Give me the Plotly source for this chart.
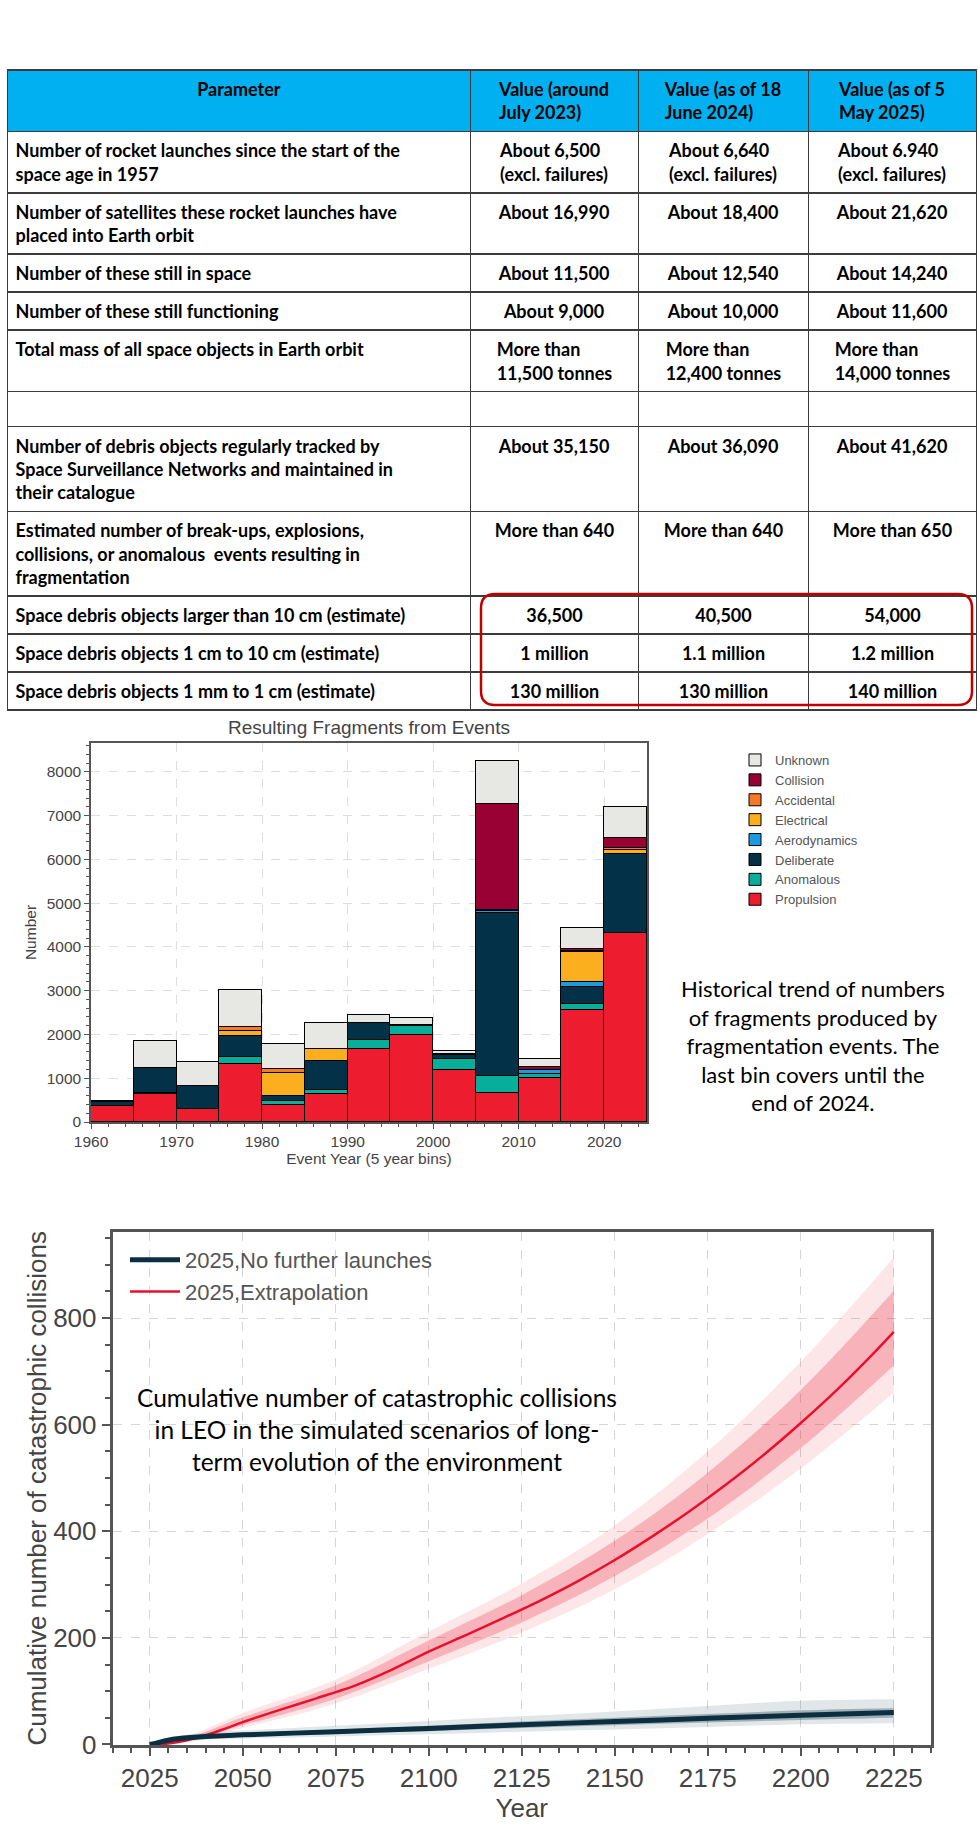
import plotly.graph_objects as go

W, H = 978, 1842
ARIAL = "Liberation Sans, Arial, sans-serif"
CAL = "Lato, Noto Sans, sans-serif"


def px(x):
    return x / W


def py(y):
    return 1 - y / H


# ---------------- Table data ----------------
table_header = ["Parameter", "Value (around<br>July 2023)",
                "Value (as of 18<br>June 2024)", "Value (as of 5<br>May 2025)"]
param_labels = [
    "Number of rocket launches since the start of the<br>space age in 1957",
    "Number of satellites these rocket launches have<br>placed into Earth orbit",
    "Number of these still in space",
    "Number of these still functioning",
    "Total mass of all space objects in Earth orbit",
    "",
    "Number of debris objects regularly tracked by<br>Space Surveillance Networks and maintained in<br>their catalogue",
    "Estimated number of break-ups, explosions,<br>collisions, or anomalous  events resulting in<br>fragmentation",
    "Space debris objects larger than 10 cm (estimate)",
    "Space debris objects 1 cm to 10 cm (estimate)",
    "Space debris objects 1 mm to 1 cm (estimate)",
]
values_2023 = ["About 6,500<br>(excl. failures)", "About 16,990", "About 11,500", "About 9,000",
               "More than<br>11,500 tonnes", "", "About 35,150", "More than 640",
               "36,500", "1 million", "130 million"]
values_2024 = ["About 6,640<br>(excl. failures)", "About 18,400", "About 12,540", "About 10,000",
               "More than<br>12,400 tonnes", "", "About 36,090", "More than 640",
               "40,500", "1.1 million", "130 million"]
values_2025 = ["About 6.940<br>(excl. failures)", "About 21,620", "About 14,240", "About 11,600",
               "More than<br>14,000 tonnes", "", "About 41,620", "More than 650",
               "54,000", "1.2 million", "140 million"]

# ---------------- Fragment bar data (5-year bins) ----------------
bin_starts = [1960, 1965, 1970, 1975, 1980, 1985, 1990, 1995, 2000, 2005, 2010, 2015, 2020]
propulsion = [360, 650, 300, 1316, 398, 630, 1660, 1980, 1195, 665, 995, 2555, 4315]
anomalous = [0, 15, 0, 175, 84, 105, 205, 210, 240, 380, 95, 145, 0]
deliberate = [95, 575, 520, 475, 114, 660, 400, 30, 95, 3740, 10, 390, 1805]
aerodynamics = [0, 0, 0, 0, 0, 0, 0, 0, 0, 30, 80, 115, 0]
electrical = [0, 0, 0, 120, 514, 270, 0, 0, 0, 0, 0, 690, 100]
accidental = [0, 0, 0, 78, 106, 0, 0, 0, 0, 30, 0, 20, 40]
collision = [0, 0, 0, 0, 0, 0, 0, 0, 30, 2420, 75, 35, 230]
unknown = [15, 620, 545, 856, 559, 590, 180, 160, 70, 990, 190, 495, 702]

bar_series = [
    ("Propulsion", propulsion, "#ED1C2E"),
    ("Anomalous", anomalous, "#07AF9B"),
    ("Deliberate", deliberate, "#033248"),
    ("Aerodynamics", aerodynamics, "#1E9BE0"),
    ("Electrical", electrical, "#FCAF1E"),
    ("Accidental", accidental, "#F47A28"),
    ("Collision", collision, "#990033"),
    ("Unknown", unknown, "#E7E7E3"),
]

# ---------------- Catastrophic collisions data ----------------
red_years = [2025, 2030, 2035, 2040, 2045, 2050, 2060, 2070, 2080, 2090, 2100,
             2110, 2120, 2130, 2140, 2150, 2160, 2170, 2180, 2190, 2200, 2210,
             2220, 2225]
red_mean = [0, 2, 8, 17, 29, 42, 65, 87, 110, 140, 174,
            205, 237, 270, 306, 346, 390, 437, 488, 543, 603, 667,
            737, 774]
red_band_years = [2025, 2035, 2050, 2075, 2100, 2125, 2150, 2175, 2200, 2225]
red_outer_hi = [0, 15, 59, 122, 212, 302, 411, 550, 718, 914]
red_outer_lo = [0, 4, 31, 77, 142, 210, 291, 395, 518, 660]
red_inner_hi = [0, 12, 51, 111, 195, 280, 382, 510, 665, 851]
red_inner_lo = [0, 6, 36, 86, 156, 229, 316, 424, 556, 711]

navy_years = [2025, 2027, 2030, 2033, 2036, 2040, 2050, 2075, 2100, 2125, 2150, 2175, 2200, 2225]
navy_mean = [0, 3, 8, 11, 13, 15, 18, 24, 30, 37, 43, 49, 55, 60]
navy_band_years = [2025, 2030, 2040, 2050, 2075, 2100, 2125, 2150, 2175, 2200, 2225]
navy_outer_hi = [0, 13, 22, 26, 35, 44, 53, 62, 72, 82, 85]
navy_outer_lo = [0, 3, 9, 11, 15, 19, 24, 28, 33, 38, 40]
navy_inner_hi = [0, 10, 18, 21, 28, 35, 43, 50, 57, 64, 68]
navy_inner_lo = [0, 6, 12, 15, 20, 25, 31, 36, 41, 46, 50]


def bold(t):
    if not t:
        return ""
    return "<br>".join("<b>%s</b>" % p for p in t.split("<br>"))


fig = go.Figure()

# ---------------- Table ----------------
tfont = dict(family=CAL, size=18, color="black")
tline = dict(color="#3c3c3c", width=1.5)
fig.add_trace(go.Table(
    domain=dict(x=[px(7.5), px(977)], y=[py(716), py(70)]),
    columnwidth=[463, 168, 170, 168],
    header=dict(values=[bold(t) for t in table_header], fill_color="#00B0F0",
                align="center", font=tfont, line=tline, height=35),
    cells=dict(values=[[bold(t) for t in col] for col in
                       (param_labels, values_2023, values_2024, values_2025)],
               fill_color="white", align=["left", "center", "center", "center"],
               font=tfont, line=tline, height=35),
))

# ---------------- Stacked bars ----------------
centers = [b + 2.5 for b in bin_starts]
for name, vals, col in bar_series:
    fig.add_trace(go.Bar(
        x=centers, y=vals, width=5, name=name,
        marker=dict(color=col, line=dict(color="black", width=1)),
        xaxis="x", yaxis="y", legend="legend",
    ))


# ---------------- Simulation lines ----------------
def band(xs, lo, hi, color):
    fig.add_trace(go.Scatter(x=xs, y=lo, mode="lines", line=dict(width=0, color=color, shape="spline"),
                             showlegend=False, hoverinfo="skip", xaxis="x2", yaxis="y2"))
    fig.add_trace(go.Scatter(x=xs, y=hi, mode="lines", line=dict(width=0, color=color, shape="spline"),
                             fill="tonexty", fillcolor=color, showlegend=False,
                             hoverinfo="skip", xaxis="x2", yaxis="y2"))


band(red_band_years, red_outer_lo, red_outer_hi, "rgba(237,28,46,0.11)")
band(red_band_years, red_inner_lo, red_inner_hi, "rgba(237,28,46,0.25)")
fig.add_trace(go.Scatter(x=red_years, y=red_mean, mode="lines", name="2025,Extrapolation",
                         line=dict(color="#E8112D", width=2.5, shape="spline", smoothing=0.8),
                         xaxis="x2", yaxis="y2", legend="legend2", legendrank=2))
band(navy_band_years, navy_outer_lo, navy_outer_hi, "rgba(11,46,64,0.12)")
band(navy_band_years, navy_inner_lo, navy_inner_hi, "rgba(11,46,64,0.30)")
fig.add_trace(go.Scatter(x=navy_years, y=navy_mean, mode="lines", name="2025,No further launches",
                         line=dict(color="#0B2E40", width=5, shape="spline", smoothing=0.8),
                         xaxis="x2", yaxis="y2", legend="legend2", legendrank=1))

# ---------------- Axes ----------------
grey = "#555555"
fig.update_layout(
    width=W, height=H, autosize=False,
    margin=dict(l=0, r=0, t=0, b=0, pad=0, autoexpand=False),
    paper_bgcolor="white", plot_bgcolor="white",
    barmode="stack", bargap=0,
    showlegend=True,
    xaxis=dict(domain=[px(91), px(647)], anchor="y", range=[1960, 2025], automargin=False,
               tick0=1960, dtick=10, ticks="outside", ticklen=5, tickwidth=1, tickcolor=grey,
               showline=True, linecolor=grey, linewidth=1.5, mirror=True,
               showgrid=True, gridcolor="#dedede", griddash="dash", gridwidth=1, zeroline=False,
               tickfont=dict(family=ARIAL, size=15.5, color="#444"),
               title=dict(text="Event Year (5 year bins)", font=dict(family=ARIAL, size=15.5, color="#444"),
                          standoff=4),
               minor=dict(tick0=1960, dtick=2, ticks="outside", ticklen=3, tickcolor=grey, showgrid=False)),
    yaxis=dict(domain=[py(1122), py(743)], anchor="x", range=[0, 8662], automargin=False,
               tick0=0, dtick=1000, ticks="outside", ticklen=5, tickwidth=1, tickcolor=grey,
               showline=True, linecolor=grey, linewidth=1.5, mirror=True,
               showgrid=True, gridcolor="#dedede", griddash="dash", gridwidth=1, zeroline=False,
               tickfont=dict(family=ARIAL, size=15.5, color="#444"),
               title=dict(text="Number", font=dict(family=ARIAL, size=15.5, color="#444"), standoff=6),
               minor=dict(tick0=0, dtick=200, ticks="outside", ticklen=3, tickcolor=grey, showgrid=False)),
    xaxis2=dict(domain=[px(112.5), px(931)], anchor="y2", range=[2015, 2235], automargin=False,
                tick0=2025, dtick=25, ticks="outside", ticklen=8, tickwidth=1.5, tickcolor=grey,
                showline=True, linecolor=grey, linewidth=2.5, mirror=True,
                showgrid=True, gridcolor="#d6d6d6", griddash="dash", gridwidth=1, zeroline=False,
                tickfont=dict(family=ARIAL, size=26, color="#444"),
                title=dict(text="Year", font=dict(family=ARIAL, size=26, color="#444"), standoff=4),
                minor=dict(tick0=2025, dtick=5, ticks="outside", ticklen=5, tickcolor=grey, showgrid=False)),
    yaxis2=dict(domain=[py(1745), py(1231.7)], anchor="x2", range=[-1, 962], automargin=False,
                tick0=0, dtick=200, ticks="outside", ticklen=8, tickwidth=1.5, tickcolor=grey,
                showline=True, linecolor=grey, linewidth=2.5, mirror=True,
                showgrid=True, gridcolor="#d6d6d6", griddash="dash", gridwidth=1, zeroline=False,
                tickfont=dict(family=ARIAL, size=26, color="#444"),
                title=dict(text="Cumulative number of catastrophic collisions",
                           font=dict(family=ARIAL, size=26, color="#444"), standoff=0),
                minor=dict(tick0=0, dtick=50, ticks="outside", ticklen=5, tickcolor=grey, showgrid=False)),
    legend=dict(x=px(735), y=py(745), xanchor="left", yanchor="top", traceorder="reversed",
                font=dict(family=ARIAL, size=13, color="#555"), bgcolor="rgba(0,0,0,0)",
                tracegroupgap=0),
    legend2=dict(x=px(125), y=py(1239), xanchor="left", yanchor="top", traceorder="normal",
                 font=dict(family=ARIAL, size=22, color="#555"), bgcolor="rgba(0,0,0,0)",
                 itemwidth=50),
)

# ---------------- Text annotations ----------------
fig.add_annotation(x=px(369), y=py(728), xref="paper", yref="paper", showarrow=False,
                   text="Resulting Fragments from Events", xanchor="center", yanchor="middle",
                   font=dict(family=ARIAL, size=19, color="#444"))
fig.add_annotation(x=px(813), y=py(1045), xref="paper", yref="paper", showarrow=False,
                   text="Historical trend of numbers<br>of fragments produced by<br>fragmentation events. The"
                        "<br>last bin covers until the<br>end of 2024.",
                   xanchor="center", yanchor="middle", align="center",
                   font=dict(family=CAL, size=22, color="black"))
fig.add_annotation(x=px(377), y=py(1429), xref="paper", yref="paper", showarrow=False,
                   text="Cumulative number of catastrophic collisions<br>in LEO in the simulated scenarios of long-"
                        "<br>term evolution of the environment",
                   xanchor="center", yanchor="middle", align="center",
                   font=dict(family=CAL, size=24.5, color="black"))


# ---------------- Red rounded highlight around last 3 rows ----------------
def rr_path(x0, y0, x1, y1, r):
    X = lambda v: "%.5f" % (v / W)
    Y = lambda v: "%.5f" % (1 - v / H)
    return ("M %s,%s L %s,%s Q %s,%s %s,%s L %s,%s Q %s,%s %s,%s L %s,%s Q %s,%s %s,%s "
            "L %s,%s Q %s,%s %s,%s Z" % (
                X(x0 + r), Y(y0), X(x1 - r), Y(y0), X(x1), Y(y0), X(x1), Y(y0 + r),
                X(x1), Y(y1 - r), X(x1), Y(y1), X(x1 - r), Y(y1),
                X(x0 + r), Y(y1), X(x0), Y(y1), X(x0), Y(y1 - r),
                X(x0), Y(y0 + r), X(x0), Y(y0), X(x0 + r), Y(y0)))


fig.add_shape(type="path", xref="paper", yref="paper", path=rr_path(481, 594, 972, 705, 14),
              line=dict(color="#C00000", width=2.5), fillcolor="rgba(0,0,0,0)", layer="above")

fig.write_html("out.html", config={"displayModeBar": False},
               post_script="document.body.style.margin='0px';document.body.style.overflow='hidden';")
